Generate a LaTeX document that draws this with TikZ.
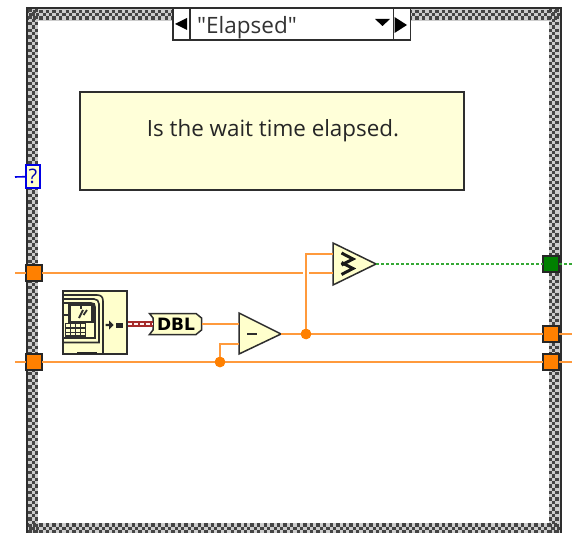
\documentclass[tikz,border=0pt]{standalone}
\usepackage{fontspec}
\newfontfamily\uifont{Open Sans}
\newfontfamily\symfont{DejaVu Sans}
\definecolor{wireor}{HTML}{FF9A3C}
\definecolor{tunor}{HTML}{FF8000}
\definecolor{paleyel}{HTML}{FFFFCC}
\definecolor{commyel}{HTML}{FFFFD9}
\definecolor{boolgr}{HTML}{008000}
\definecolor{booldot}{HTML}{35A835}
\definecolor{edgegr}{HTML}{2E2E2E}
\definecolor{checker}{HTML}{444444}
\definecolor{dblred}{HTML}{A52A2A}
\tikzset{
  wire/.style={draw=wireor,line width=2.5pt},
  boolwire/.style={draw=booldot,line width=2pt,dash pattern=on 2.5pt off 2.5pt},
  tunnel/.style={draw=black!85,line width=1.8pt,fill=tunor,minimum size=16pt,inner sep=0pt,outer sep=0pt},
  booltun/.style={tunnel,fill=boolgr},
  prim/.style={draw=edgegr,line width=1.5pt,fill=paleyel,line join=miter},
  junction/.style={circle,fill=tunor,minimum size=10.5pt,inner sep=0pt,outer sep=0pt},
  track/.style={checker,line width=3.3pt,dash pattern=on 3.3pt off 3.3pt},
  selbox/.style={draw=edgegr,line width=1.5pt,fill=white,inner sep=0pt,outer sep=0pt},
  tinyline/.style={edgegr,line width=1.6pt},
}
\begin{document}
\begin{tikzpicture}[x=1pt,y=-1pt,every node/.style={font=\uifont}]
\useasboundingbox (0,0) rectangle (572,534);
\fill[white] (0,0) rectangle (572,534);
% case structure frame
\fill[black!20] (26,8) rectangle (561,533);
\fill[white] (37.5,21) rectangle (549,522.5);
\foreach \off in {0,3.3,6.6}{
  \pgfmathsetmacro{\ph}{mod(\off/3.3,2)*3.3}
  \draw[track,dash phase=\ph pt] (30+\off,9) -- (30+\off,533);
  \draw[track,dash phase=\ph pt] (550.5+\off,9) -- (550.5+\off,533);
  \draw[track,dash phase=\ph pt] (26,11.5+\off) -- (561,11.5+\off);
  \draw[track,dash phase=\ph pt] (26,525+\off) -- (561,525+\off);
}
\draw[edgegr,line width=2pt] (27,8) -- (27,533);
\draw[edgegr,line width=2pt] (560.5,8) -- (560.5,533);
\draw[edgegr,line width=2pt] (26,8.5) -- (561.5,8.5);
% selector
\node[selbox,minimum width=237pt,minimum height=32pt] (sel) at (291.5,24) {};
\node[selbox,minimum width=17pt,minimum height=32pt] (selL) at (181.5,24) {};
\node[selbox,minimum width=17pt,minimum height=32pt] (selR) at (402,24) {};
\fill[black] (175,24) -- (187,18) -- (187,30) -- cycle;
\fill[black] (407,25) -- (394.5,17) -- (394.5,33) -- cycle;
\fill[black] (375,19) -- (390,19) -- (382.5,26) -- cycle;
\node[anchor=west,inner sep=0pt,font=\uifont\fontsize{22.5}{22}\selectfont,text=black!80] (caselabel) at (197,27.5) {"Elapsed"};
% comment
\node[draw=edgegr,line width=1.3pt,fill=commyel,minimum width=384pt,minimum height=98pt,inner sep=0pt] (comment) at (272,141) {};
\node[inner sep=0pt,font=\uifont\fontsize{22.4}{24}\selectfont,text=black!85] (commenttext) at (273,130.5) {Is the wait time elapsed.};
% selector terminal
\coordinate (qin) at (15,177);
\node[draw=blue!90!black,line width=1.6pt,fill=paleyel,minimum width=14pt,minimum height=23pt,inner sep=0pt,text=blue!70!black,font=\uifont\fontsize{20}{20}\selectfont] (qterm) at (33,176.5) {?};
\draw[blue!90!black,line width=1.6pt] (qin) -- (qterm);
% free ends
\coordinate (inA) at (15,273);
\coordinate (inB) at (15,362);
\coordinate (outA) at (572,264);
\coordinate (outB) at (572,334);
\coordinate (outC) at (572,362);
% compare / subtract
\draw[prim] (333,243) -- (376,264) -- (333,285) -- cycle;
\draw[prim] (239,313) -- (281,334) -- (239,354) -- cycle;
\coordinate (cmpU) at (333,254);
\coordinate (cmpL) at (333,273);
\coordinate (cmpO) at (376,264);
\coordinate (subU) at (239,324);
\coordinate (subL) at (239,344);
\coordinate (subO) at (281,334);
\draw[black!90,line width=3pt,line join=miter] (341.5,253) -- (353,259) -- (341.5,265);
\draw[black!90,line width=3pt,line join=miter] (341.5,262.5) -- (353,268.5) -- (341.5,274.5);
\draw[edgegr,line width=2.2pt] (247,334) -- (257,334);
% tunnels
\node[tunnel] (tL1) at (34,273) {};
\node[tunnel] (tL2) at (34,362) {};
\node[booltun] (tR0) at (551,264) {};
\node[tunnel] (tR1) at (551,334) {};
\node[tunnel] (tR2) at (551,362) {};
% junctions
\node[junction] (jA) at (306,334) {};
\node[junction] (jB) at (220,362) {};
% DBL conversion
\draw[prim] (149.5,313.5) -- (196,313.5) -- (201.5,318) -- (201.5,330) -- (196,334.5) -- (149.5,334.5) -- (153,330) -- (153,318) -- cycle;
\node[inner sep=0pt,font=\symfont\bfseries\fontsize{17}{17}\selectfont] (dbl) at (176,324.5) {DBL};
\coordinate (dblO) at (202,324);
\coordinate (dblI) at (153,324);
% timer icon
\node[draw=edgegr,line width=1.5pt,fill=paleyel,minimum width=64pt,minimum height=63pt,inner sep=0pt] (timer) at (95,322.5) {};
% connectors
\draw[wire] (inA) -- (tL1);
\draw[wire] (tL1.east) -- (303,273);
\draw[wire] (309,273) -- (cmpL);
\draw[wire] (inB) -- (tL2);
\draw[wire] (tL2.east) -- (tR2.west);
\draw[wire] (tR2.east) -- (outC);
\draw[wire] (dblO) -- (subU);
\draw[wire] (jB.center) -- (220,344) -- (subL);
\draw[wire] (subO) -- (tR1.west);
\draw[wire] (tR1.east) -- (outB);
\draw[wire] (jA.center) -- (306,254) -- (cmpU);
\node[junction] at (jA) {};
\node[junction] at (jB) {};
\draw[boolwire] (cmpO) -- (tR0.west);
\draw[boolwire] (tR0.east) -- (outA);
\draw[dblred,line width=5.5pt] (timer.east |- dblI) -- (dblI);
\draw[white!80!pink,line width=1.2pt,dash pattern=on 4pt off 2pt] (timer.east |- dblI) -- (dblI);
% timer icon details
\begin{scope}[tinyline]
  \draw (64,295) -- (97,295) .. controls (101,295) and (103,297) .. (103,301) -- (103,353);
  \draw (64,299) -- (94,299) .. controls (97,299) and (99,301) .. (99,304) -- (99,342.5) -- (64,342.5);
  \draw (64,303) -- (91,303) .. controls (94,303) and (95,304) .. (95,307) -- (95,338) -- (64,338);
  \fill[paleyel] (69,304) rectangle (93,322);
  \draw[line width=2.2pt] (69.5,304.5) rectangle (92.5,322);
  \draw[line width=1.8pt] (64,315) -- (69,315);
  \draw (81,306) -- (81,309);
  \draw[line width=1.8pt] (79,318) -- (83,310) (83.5,315) -- (87,310);
  \foreach \yy in {323.5,328,332.5,336} \draw[line width=1.3pt] (65,\yy) -- (86,\yy);
  \foreach \xx in {65.5,70.5,75.5,80.5,85.5} \draw[line width=1.3pt] (\xx,323) -- (\xx,336);
  \fill[black!85] (77,351.5) rectangle (97,354);
  \fill[black!85] (113.5,325) -- (109,320.5) -- (109,323.8) -- (105.5,323.8) -- (105.5,326.2) -- (109,326.2) -- (109,329.5) -- cycle;
  \fill[black!85] (116,323) rectangle (123,328);
\end{scope}
\end{tikzpicture}
\end{document}
